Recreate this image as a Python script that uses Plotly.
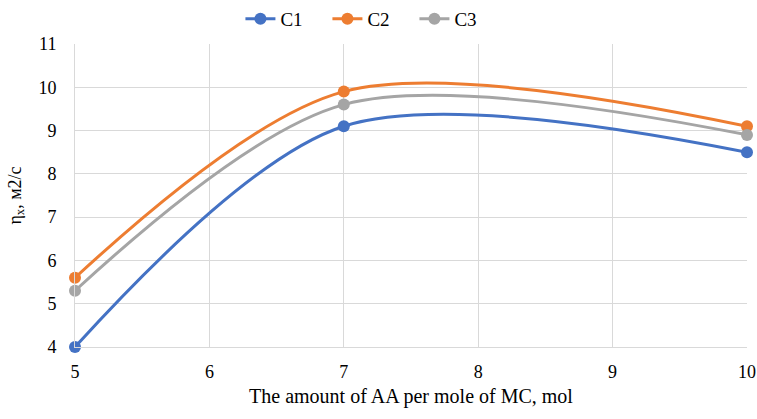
import plotly.graph_objects as go

# Amount of AA per mole of MC, mol
aa_amount = [5, 7, 10]

# η_x values for each series
c1_values = [4.0, 9.1, 8.5]
c2_values = [5.6, 9.9, 9.1]
c3_values = [5.3, 9.6, 8.9]

series_names = ["C1", "C2", "C3"]
series_colors = ["#4472C4", "#ED7D31", "#A5A5A5"]

SERIF = "Liberation Serif, Times New Roman, serif"

fig = go.Figure()
for name, vals, color in zip(series_names, [c1_values, c2_values, c3_values], series_colors):
    fig.add_trace(go.Scatter(
        x=aa_amount, y=vals, name=name,
        mode="lines+markers",
        line=dict(color=color, width=3, shape="spline", smoothing=0.9),
        marker=dict(color=color, size=12),
        cliponaxis=False,
    ))

fig.update_layout(
    width=757, height=419,
    margin=dict(l=75, r=10, t=44, b=72, autoexpand=False),
    paper_bgcolor="white", plot_bgcolor="white",
    font=dict(family=SERIF, size=18, color="black"),
    legend=dict(orientation="h", x=0.49, xanchor="center", xref="container",
                y=1.0, yanchor="top", yref="container", itemwidth=30,
                entrywidth=42, entrywidthmode="pixels",
                font=dict(family=SERIF, size=19, color="black")),
    xaxis=dict(
        range=[5, 10], dtick=1, showgrid=True, gridcolor="#D9D9D9", gridwidth=1,
        showline=True, linecolor="#D9D9D9", linewidth=1, zeroline=False,
        ticks="", ticklabelstandoff=8,
        tickfont=dict(family=SERIF, size=18, color="black"),
        title=dict(text="The amount of AA per mole of MC, mol",
                   font=dict(family=SERIF, size=20, color="black"), standoff=8),
    ),
    yaxis=dict(
        range=[4, 11], dtick=1, showgrid=True, gridcolor="#D9D9D9", gridwidth=1,
        showline=True, linecolor="#D9D9D9", linewidth=1, zeroline=False,
        ticks="", ticklabelstandoff=14,
        tickfont=dict(family=SERIF, size=18, color="black"),
        title=dict(text="η<sub>x</sub>, м2/с",
                   font=dict(family=SERIF, size=18, color="black"), standoff=12),
    ),
)

fig.write_html("out.html")
